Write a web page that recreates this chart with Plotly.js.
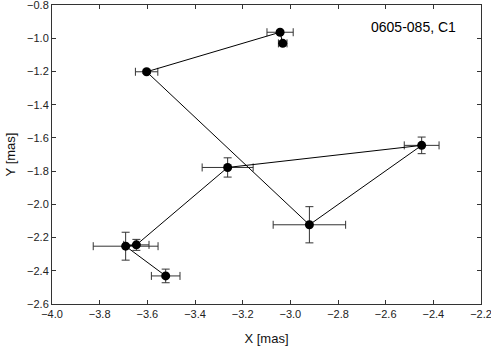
<!DOCTYPE html>
<html>
<head>
<meta charset="utf-8">
<script src="https://cdn.plot.ly/plotly-3.0.1.min.js"></script>
<style>
  html, body { margin: 0; padding: 0; background: #fff; }
  #chart { width: 491px; height: 351px; }
</style>
</head>
<body>
<div id="chart"></div>
<script>
// positions of the component, in time order
var posX = [-3.523, -3.691, -3.646, -3.263, -2.449, -2.920, -3.603, -3.043, -3.032];
var posY = [-2.431, -2.252, -2.244, -1.778, -1.645, -2.123, -1.202, -0.964, -1.031];
var errX = [0.060, 0.136, 0.053, 0.107, 0.073, 0.152, 0.047, 0.055, 0.018];
var errY = [0.041, 0.084, 0.033, 0.058, 0.050, 0.109, 0.010, 0.010, 0.012];
var xTicks = [-4.0, -3.8, -3.6, -3.4, -3.2, -3.0, -2.8, -2.6, -2.4, -2.2];
var yTicks = [-0.8, -1.0, -1.2, -1.4, -1.6, -1.8, -2.0, -2.2, -2.4, -2.6];
var label = '0605-085, C1';

var fnt = 'Liberation Sans, Arial, sans-serif';

var trace = {
    x: posX,
    y: posY,
    mode: 'lines+markers',
    type: 'scatter',
    line: {color: '#000', width: 1},
    marker: {color: '#000', size: 9},
    error_x: {type: 'data', array: errX, color: '#333', thickness: 1, width: 4},
    error_y: {type: 'data', array: errY, color: '#333', thickness: 1, width: 4},
    showlegend: false
};

var layout = {
    width: 491,
    height: 351,
    margin: {l: 52, r: 10, t: 5, b: 47},
    paper_bgcolor: '#fff',
    plot_bgcolor: '#fff',
    font: {family: fnt, size: 11, color: '#222'},
    xaxis: {
        range: [-4.0, -2.2],
        tickvals: xTicks,
        tickformat: '.1f',
        ticks: 'inside', ticklen: 4, tickwidth: 1, tickcolor: '#333',
        showline: true, linecolor: '#333', mirror: 'ticks',
        showgrid: false, zeroline: false, ticklabeloverflow: 'allow',
        title: {text: 'X [mas]', font: {size: 13, family: fnt, color: '#111'}, standoff: 14}
    },
    yaxis: {
        range: [-2.6, -0.8],
        tickvals: yTicks,
        tickformat: '.1f',
        ticks: 'inside', ticklen: 4, tickwidth: 1, tickcolor: '#333',
        showline: true, linecolor: '#333', mirror: 'ticks',
        showgrid: false, zeroline: false, ticklabeloverflow: 'allow',
        title: {text: 'Y [mas]', font: {size: 13, family: fnt, color: '#111'}, standoff: 8}
    },
    annotations: [{
        text: label, xref: 'paper', yref: 'paper',
        x: 0.946, y: 0.926, xanchor: 'right', yanchor: 'middle',
        showarrow: false, font: {size: 14, family: fnt, color: '#000'}
    }]
};

Plotly.newPlot('chart', [trace], layout, {displayModeBar: false, staticPlot: true});
</script>
</body>
</html>
